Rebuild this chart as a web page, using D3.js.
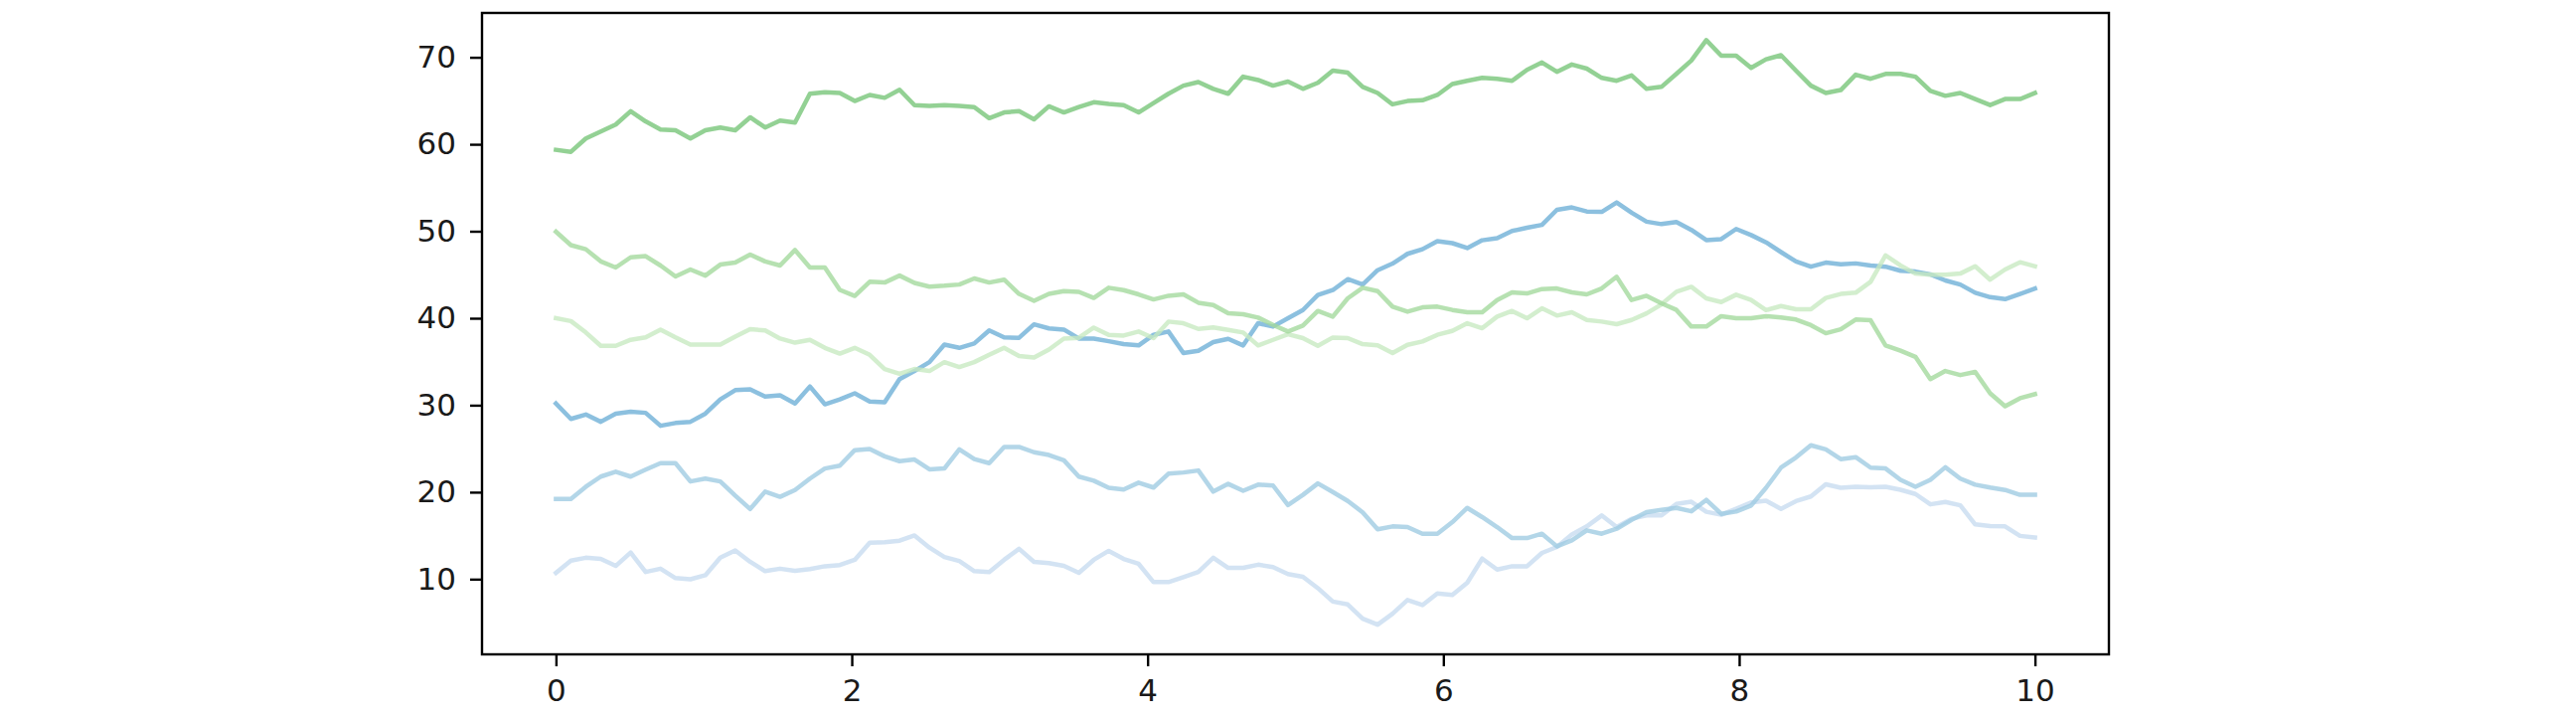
<!DOCTYPE html>
<html>
<head>
<meta charset="utf-8">
<script src="https://cdn.jsdelivr.net/npm/d3@7"></script>
<style>
  html, body { margin: 0; padding: 0; background: #ffffff; }
  svg { display: block; }
</style>
</head>
<body>
<div id="chart"></div>
<script>
// ---- data ----
const nPoints = 100;
const xStart = 0;
const xEnd = 10;
const xs = d3.range(nPoints).map(i => xStart + i * (xEnd - xStart) / (nPoints - 1));

const seriesNames = ["s10", "s20", "s30", "s40", "s50", "s60"];

const s10 = [10.73,12.13,12.46,12.32,11.52,13.06,10.82,11.20,10.12,9.98,
  10.45,12.46,13.30,11.99,10.92,11.20,10.96,11.15,11.48,11.62,
  12.22,14.18,14.23,14.42,15.02,13.62,12.55,12.08,10.92,10.82,
  12.22,13.48,11.99,11.85,11.52,10.73,12.22,13.25,12.32,11.76,
  9.66,9.66,10.22,10.82,12.46,11.29,11.29,11.66,11.38,10.59,
  10.26,8.96,7.42,7.09,5.46,4.76,6.03,7.60,7.02,8.36,
  8.17,9.58,12.36,11.10,11.48,11.48,13.01,13.70,15.14,16.06,
  17.32,15.98,16.94,17.32,17.32,18.65,18.90,17.74,17.40,18.09,
  18.82,19.01,18.07,18.97,19.50,20.90,20.50,20.62,20.55,20.62,
  20.27,19.79,18.60,18.87,18.49,16.29,16.10,16.06,14.97,14.78];

const s20 = [19.22,19.22,20.62,21.79,22.35,21.79,22.58,23.33,23.33,21.23,
  21.56,21.23,19.60,18.06,20.06,19.46,20.25,21.56,22.72,23.05,
  24.83,24.97,24.12,23.56,23.75,22.63,22.72,24.92,23.80,23.33,
  25.20,25.20,24.59,24.27,23.66,21.79,21.32,20.50,20.30,21.09,
  20.53,22.12,22.26,22.49,20.06,20.95,20.16,20.86,20.76,18.52,
  19.69,21.00,20.02,18.99,17.68,15.72,16.06,15.98,15.22,15.22,
  16.55,18.19,17.13,15.98,14.72,14.72,15.22,13.77,14.46,15.60,
  15.22,15.79,16.82,17.70,17.96,18.19,17.80,19.11,17.51,17.77,
  18.46,20.50,22.82,23.98,25.39,24.92,23.80,24.03,22.82,22.72,
  21.42,20.62,21.42,22.86,21.56,20.86,20.53,20.25,19.69,19.69];

const s30 = [30.19,28.42,28.93,28.09,29.03,29.26,29.12,27.63,27.95,28.09,
  29.03,30.66,31.73,31.83,30.99,31.13,30.19,32.15,30.10,30.66,
  31.36,30.43,30.33,33.00,33.93,34.95,36.96,36.59,37.10,38.59,
  37.80,37.75,39.29,38.83,38.69,37.66,37.66,37.35,37.02,36.87,
  38.09,38.47,35.99,36.26,37.25,37.63,36.87,39.42,39.04,39.99,
  40.94,42.66,43.23,44.49,43.88,45.52,46.28,47.40,47.93,48.86,
  48.63,48.07,48.96,49.19,50.03,50.40,50.73,52.46,52.74,52.27,
  52.22,53.30,52.13,51.10,50.82,51.06,50.15,48.98,49.10,50.26,
  49.56,48.72,47.60,46.53,45.92,46.39,46.20,46.30,46.06,45.92,
  45.46,45.36,45.04,44.34,43.87,42.93,42.42,42.19,42.79,43.40];

const s40 = [40.00,39.67,38.36,36.82,36.82,37.52,37.80,38.69,37.80,36.96,
  36.96,36.96,37.89,38.73,38.59,37.66,37.19,37.52,36.59,35.93,
  36.59,35.79,34.16,33.60,34.16,33.93,34.95,34.39,34.95,35.79,
  36.59,35.65,35.47,36.40,37.66,37.75,38.92,38.09,38.01,38.47,
  37.71,39.61,39.42,38.77,38.93,38.66,38.35,36.87,37.51,38.16,
  37.71,36.83,37.78,37.71,37.02,36.87,35.99,36.94,37.32,38.09,
  38.54,39.42,38.85,40.18,40.83,39.99,41.14,40.30,40.68,39.80,
  39.61,39.31,39.80,40.56,41.59,43.04,43.61,42.28,41.86,42.70,
  42.09,40.93,41.40,41.02,41.02,42.33,42.79,42.93,44.19,47.23,
  46.06,45.13,44.99,44.99,45.13,45.97,44.43,45.60,46.44,45.97];

const s50 = [49.94,48.40,47.93,46.53,45.83,47.00,47.14,46.06,44.80,45.60,
  44.90,46.16,46.39,47.32,46.53,46.06,47.84,45.83,45.83,43.26,
  42.56,44.19,44.10,44.90,44.05,43.63,43.73,43.87,44.57,44.10,
  44.43,42.79,42.00,42.79,43.12,43.03,42.33,43.50,43.23,42.74,
  42.16,42.58,42.74,41.78,41.52,40.56,40.45,40.07,39.23,38.47,
  39.15,40.83,40.18,42.28,43.50,43.12,41.33,40.75,41.25,41.33,
  40.95,40.68,40.68,42.09,42.97,42.85,43.35,43.42,42.97,42.74,
  43.42,44.76,42.09,42.58,41.71,40.95,39.04,39.04,40.23,40.00,
  40.00,40.23,40.09,39.85,39.20,38.27,38.73,39.85,39.76,36.87,
  36.26,35.56,32.99,33.93,33.46,33.83,31.36,29.87,30.80,31.27];

const s60 = [59.36,59.13,60.67,61.46,62.26,63.80,62.63,61.70,61.60,60.67,
  61.60,61.93,61.60,63.10,61.93,62.72,62.49,65.81,65.99,65.90,
  64.97,65.67,65.34,66.27,64.50,64.41,64.50,64.41,64.27,63.00,
  63.66,63.80,62.86,64.36,63.66,64.27,64.83,64.64,64.50,63.66,
  64.73,65.81,66.74,67.16,66.37,65.81,67.77,67.39,66.74,67.21,
  66.37,67.07,68.47,68.23,66.60,65.90,64.59,64.97,65.06,65.67,
  66.93,67.30,67.63,67.53,67.30,68.56,69.40,68.33,69.17,68.70,
  67.63,67.30,67.91,66.37,66.60,68.09,69.63,71.97,70.19,70.19,
  68.79,69.77,70.24,68.47,66.74,65.90,66.23,68.00,67.53,68.09,
  68.09,67.77,66.13,65.57,65.90,65.20,64.50,65.20,65.20,65.90];

const seriesValues = [s10, s20, s30, s40, s50, s60];
const seriesColors = ["#c6dbef", "#9ecae1", "#6baed6", "#c7e9c0", "#a1d99b", "#74c476"];

const xTicks = [0, 2, 4, 6, 8, 10];
const yTicks = [10, 20, 30, 40, 50, 60, 70];
const xLimits = [-0.5, 10.5];
const yLimits = [1.35, 75.1];

// ---- layout ----
const W = 2592, H = 723;
const plot = { left: 485, right: 2122, top: 13, bottom: 658 };

const svg = d3.select("#chart").append("svg")
  .attr("width", W).attr("height", H)
  .attr("viewBox", `0 0 ${W} ${H}`);

svg.append("rect").attr("width", W).attr("height", H).attr("fill", "#ffffff");

const x = d3.scaleLinear().domain(xLimits).range([plot.left, plot.right]);
const y = d3.scaleLinear().domain(yLimits).range([plot.bottom, plot.top]);

svg.append("clipPath").attr("id", "clip")
  .append("rect")
  .attr("x", plot.left).attr("y", plot.top)
  .attr("width", plot.right - plot.left).attr("height", plot.bottom - plot.top);

const line = d3.line()
  .x((d, i) => x(xs[i]))
  .y(d => y(d));

const g = svg.append("g").attr("clip-path", "url(#clip)");
seriesValues.forEach((vals, k) => {
  g.append("path")
    .datum(vals)
    .attr("class", "series " + seriesNames[k])
    .attr("fill", "none")
    .attr("stroke", seriesColors[k])
    .attr("stroke-opacity", 0.78)
    .attr("stroke-width", 4.5)
    .attr("stroke-linejoin", "round")
    .attr("stroke-linecap", "square")
    .attr("d", line);
});

// axes
const fontFamily = "'DejaVu Sans', sans-serif";
const fontSize = 31;

const xAxis = d3.axisBottom(x).tickValues(xTicks).tickFormat(d3.format("d"))
  .tickSizeInner(12).tickSizeOuter(0).tickPadding(13);
const yAxis = d3.axisLeft(y).tickValues(yTicks).tickFormat(d3.format("d"))
  .tickSizeInner(12).tickSizeOuter(0).tickPadding(14);

const gx = svg.append("g")
  .attr("transform", `translate(0,${plot.bottom})`)
  .call(xAxis);
const gy = svg.append("g")
  .attr("transform", `translate(${plot.left},0)`)
  .call(yAxis);

[gx, gy].forEach(ax => {
  ax.select(".domain").remove();
  ax.selectAll(".tick line").attr("stroke", "#000").attr("stroke-width", 2.4);
  ax.selectAll(".tick text")
    .attr("fill", "#1a1a1a")
    .style("font-family", fontFamily)
    .style("font-size", fontSize + "px");
});

// frame (spines)
svg.append("rect")
  .attr("x", plot.left).attr("y", plot.top)
  .attr("width", plot.right - plot.left).attr("height", plot.bottom - plot.top)
  .attr("fill", "none")
  .attr("stroke", "#000")
  .attr("stroke-width", 2.4);
</script>
</body>
</html>
